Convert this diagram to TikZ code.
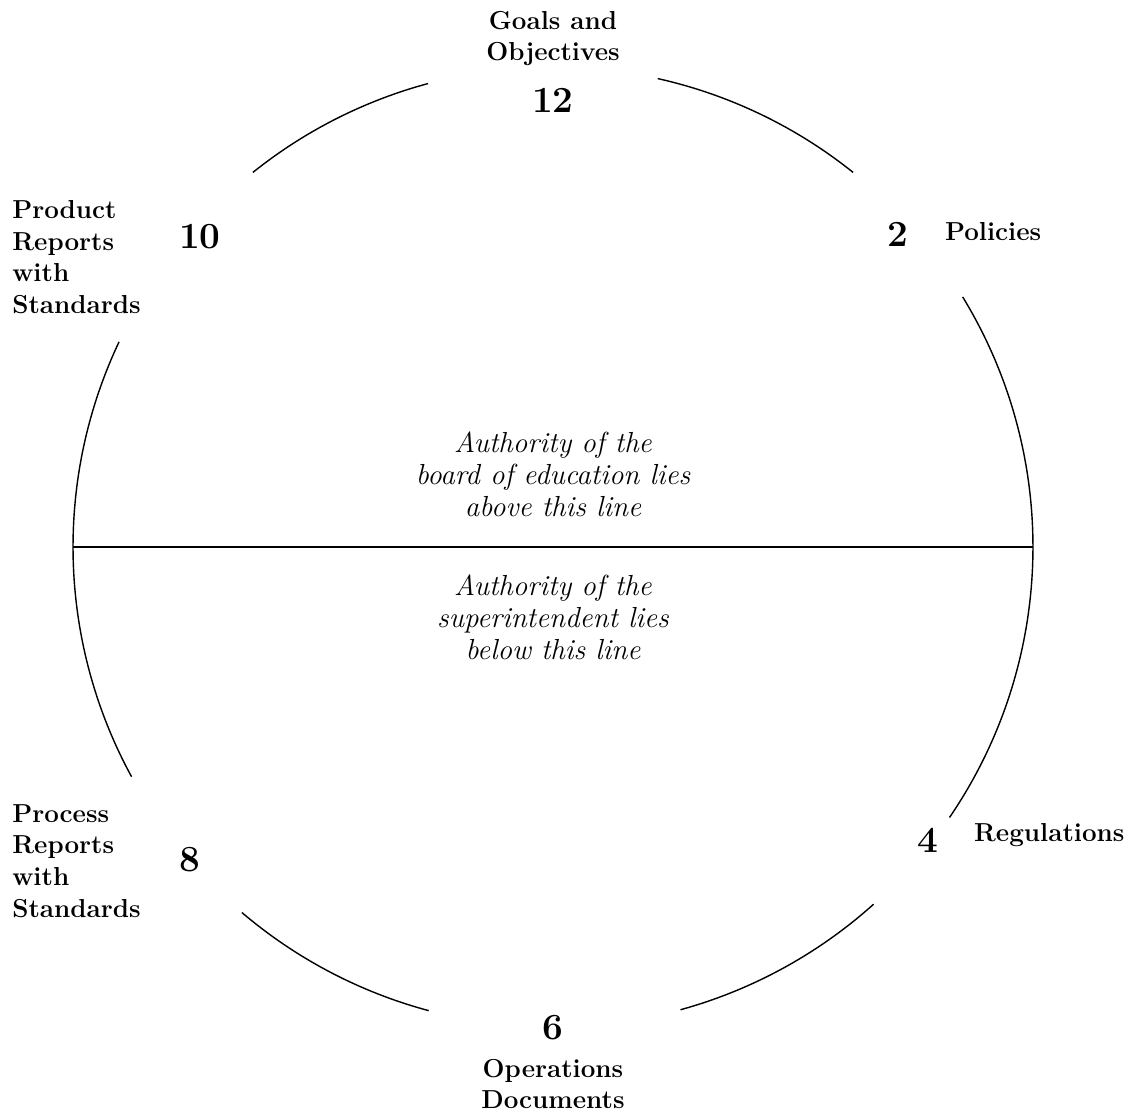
\documentclass[tikz,border=0pt]{standalone}
\usepackage{tikz}
\usetikzlibrary{positioning}

\tikzset{
  lbl/.style={font=\fontsize{14.8}{18}\selectfont\bfseries, align=left, inner sep=0pt},
  num/.style={font=\fontsize{21}{24}\selectfont\bfseries, inner sep=0pt},
  note/.style={font=\fontsize{16.5}{18.2}\selectfont\itshape, align=center, inner sep=0pt}
}

\begin{document}
\begin{tikzpicture}[x=1cm, y=1cm]
        % 1 cm = 50 px, origin at the centre of the circle
        \useasboundingbox (-11.06,10.94) rectangle (11.5,-11.3);
        \foreach \a/\b in {51.3/77.4, 105.1/128.7, 154.7/208.6, 229.6/255, 285.4/311.9, -34.3/31.4}
            {\draw[line width=0.8pt] (\a:9.6) arc (\a:\b:9.6);}
        \coordinate (west) at (180:9.6);
        \coordinate (east) at (0:9.6);
        \draw[line width=0.8pt] (west) -- (east);
        % clock positions
        \node[num] (n12) at (0,8.94) {12};
        \node[lbl, align=center, above=0.42 of n12] (goals) {Goals and\\Objectives};
        \node[num] (n2) at (6.9,6.26) {2};
        \node[lbl, right=0.72 of n2, yshift=1.5pt] (pol) {Policies};
        \node[num] (n4) at (7.5,-5.86) {4};
        \node[lbl, right=0.7 of n4, yshift=3pt] (reg) {Regulations};
        \node[num] (n6) at (0,-9.62) {6};
        \node[lbl, align=center, below=0.36 of n6] (ops) {Operations\\Documents};
        \node[num] (n8) at (-7.26,-6.26) {8};
        \node[lbl, anchor=west] (proc) at (-10.82,-6.28) {Process\\Reports\\with\\Standards};
        \node[num] (n10) at (-7.06,6.2) {10};
        \node[lbl, anchor=west] (prod) at (-10.82,5.8) {Product\\Reports\\with\\Standards};
        % authority notes
        \node[note] (board) at (0,1.46) {Authority of the\\board of education lies\\above this line};
        \node[note] (sup) at (0,-1.4) {Authority of the\\superintendent lies\\below this line};
\end{tikzpicture}
\end{document}
